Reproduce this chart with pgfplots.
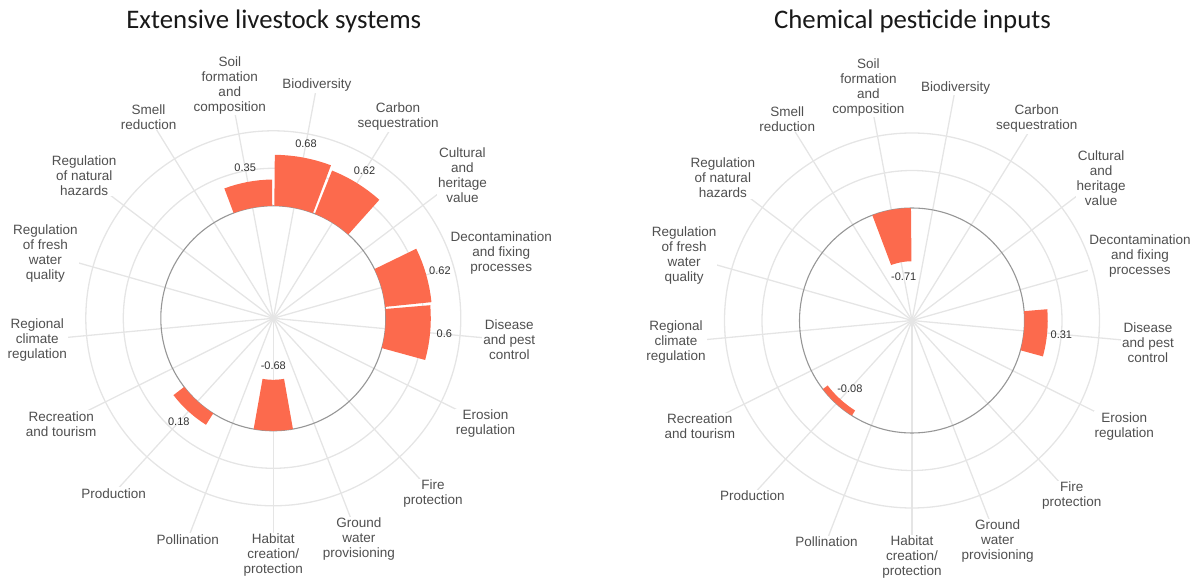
\documentclass[border=0pt]{standalone}
\usepackage{pgfplots}
\pgfplotsset{compat=1.18}
\usepackage{pgfplotstable}
\usepackage{fontspec}
\setmainfont{Liberation Sans}
\newfontfamily\titlefont{Carlito}

\definecolor{barcol}{RGB}{252,106,77}
\definecolor{gridcol}{RGB}{229,229,229}
\definecolor{basecol}{RGB}{150,150,150}
\definecolor{catcol}{RGB}{80,80,80}
\definecolor{valcol}{RGB}{50,50,50}

% categories clockwise from the top:
% 1 Biodiversity, 2 Carbon sequestration, 3 Cultural and heritage value,
% 4 Decontamination and fixing processes, 5 Disease and pest control,
% 6 Erosion regulation, 7 Fire protection, 8 Ground water provisioning,
% 9 Habitat creation/protection, 10 Pollination, 11 Production,
% 12 Recreation and tourism, 13 Regional climate regulation,
% 14 Regulation of fresh water quality, 15 Regulation of natural hazards,
% 16 Smell reduction, 17 Soil formation and composition
\pgfplotstableread{
idx v lab
1 0.68 0.68
2 0.62 0.62
3 0 {}
4 0.62 0.62
5 0.6 0.6
6 0 {}
7 0 {}
8 0 {}
9 -0.68 -0.68
10 0 {}
11 0.18 0.18
12 0 {}
13 0 {}
14 0 {}
15 0 {}
16 0 {}
17 0.35 0.35
}\livestock

\pgfplotstableread{
idx v lab
1 0 {}
2 0 {}
3 0 {}
4 0 {}
5 0.31 0.31
6 0 {}
7 0 {}
8 0 {}
9 0 {}
10 0 {}
11 -0.08 -0.08
12 0 {}
13 0 {}
14 0 {}
15 0 {}
16 0 {}
17 -0.71 -0.71
}\pesticide

% shape of one annular bar: t = position across the bar, s = 0 inner / 1 outer
\pgfplotstableread{
t s
-1 0
-1 1
-0.75 1
-0.5 1
-0.25 1
0 1
0.25 1
0.5 1
0.75 1
1 1
1 0
0.75 0
0.5 0
0.25 0
0 0
-0.25 0
-0.5 0
-0.75 0
}\sectortpl

\newcommand\polargrid[1]{%
\begin{scope}[shift={#1}]
 \foreach \i in {1,...,17}
   \draw[gridcol, line width=1.3pt] (0,0) -- ({90-(\i-0.5)*360/17}:237pt);
 \foreach \i/\t in {1/{Biodiversity}, 2/{Carbon\\sequestration}, 3/{Cultural\\and\\heritage\\value}, 4/{Decontamination\\and fixing\\processes}, 5/{Disease\\and pest\\control}, 6/{Erosion\\regulation}, 7/{Fire\\protection}, 8/{Ground\\water\\provisioning}, 9/{Habitat\\creation/\\protection}, 10/{Pollination}, 11/{Production}, 12/{Recreation\\and tourism}, 13/{Regional\\climate\\regulation}, 14/{Regulation\\of fresh\\water\\quality}, 15/{Regulation\\of natural\\hazards}, 16/{Smell\\reduction}, 17/{Soil\\formation\\and\\composition}}
   \node[fill=white, inner sep=1pt, align=center, text=catcol, font=\fontsize{13.5}{15}\selectfont] at ({90-(\i-0.5)*360/17}:237pt) {\t};
 \draw[gridcol, line width=1.3pt] (0,0) circle[radius=150pt];
 \draw[gridcol, line width=1.3pt] (0,0) circle[radius=187.5pt];
 \draw[basecol, line width=1.1pt] (0,0) circle[radius=112.5pt];
\end{scope}}

\pgfplotsset{polbar/.style={
  x=75pt, y=75pt, xmin=-3.2, xmax=3.2, ymin=-3.2, ymax=3.2,
  hide axis, clip=false, anchor=center}}

\begin{document}
\begin{tikzpicture}
\path (0,0) rectangle (1195pt,581pt);
\polargrid{(273.3pt,262.7pt)}
\polargrid{(912pt,260.5pt)}
\node[anchor=base, font=\titlefont\fontsize{26.8}{32}\selectfont, text=black!90] at (273.8pt,552pt) {Extensive livestock systems};
\node[anchor=base, font=\titlefont\fontsize{26.8}{32}\selectfont, text=black!90] at (912.5pt,552pt) {Chemical pesticide inputs};

\begin{axis}[polbar, at={(273.3pt,262.7pt)}]
\pgfplotsinvokeforeach{0,...,16}{%
  \pgfplotstablegetelem{#1}{idx}\of\livestock \let\ci\pgfplotsretval
  \pgfplotstablegetelem{#1}{v}\of\livestock \let\cv\pgfplotsretval
  \ifdim\cv pt=0pt\else
  \addplot[fill=barcol, draw=none, data cs=polar] table[x expr={90-(\ci-0.5)*360/17+\thisrow{t}*10.06}, y expr={1.5+\thisrow{s}*\cv}] {\sectortpl};
  \fi
}
\addplot[draw=none, mark=none, data cs=polar, point meta=explicit symbolic, nodes near coords,
  every node near coord/.append style={anchor=center, font=\fontsize{11}{13}\selectfont, text=valcol, inner sep=0pt}]
  table[x expr={90-(\thisrow{idx}-0.5)*360/17}, y expr={1.5+\thisrow{v}+0.19*(\thisrow{v}>0)-0.19*(\thisrow{v}<0)}, meta=lab] {\livestock};
\end{axis}

\begin{axis}[polbar, at={(912pt,260.5pt)}]
\pgfplotsinvokeforeach{0,...,16}{%
  \pgfplotstablegetelem{#1}{idx}\of\pesticide \let\ci\pgfplotsretval
  \pgfplotstablegetelem{#1}{v}\of\pesticide \let\cv\pgfplotsretval
  \ifdim\cv pt=0pt\else
  \addplot[fill=barcol, draw=none, data cs=polar] table[x expr={90-(\ci-0.5)*360/17+\thisrow{t}*10.06}, y expr={1.5+\thisrow{s}*\cv}] {\sectortpl};
  \fi
}
\addplot[draw=none, mark=none, data cs=polar, point meta=explicit symbolic, nodes near coords,
  every node near coord/.append style={anchor=center, font=\fontsize{11}{13}\selectfont, text=valcol, inner sep=0pt}]
  table[x expr={90-(\thisrow{idx}-0.5)*360/17}, y expr={1.5+\thisrow{v}+0.19*(\thisrow{v}>0)-0.19*(\thisrow{v}<0)}, meta=lab] {\pesticide};
\end{axis}
\end{tikzpicture}
\end{document}
